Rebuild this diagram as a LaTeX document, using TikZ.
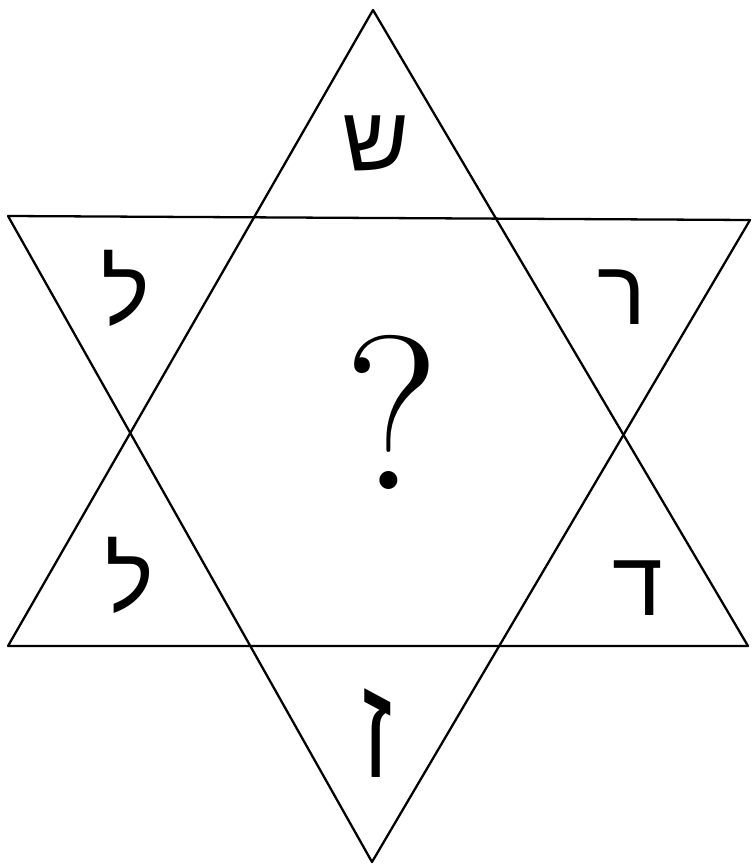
\documentclass[tikz,border=0pt]{standalone}
\usepackage{fontspec}
\newfontfamily\hebfont[Script=Hebrew]{Liberation Sans}
\TeXXeTstate=1
\usetikzlibrary{arrows}

\begin{document}
\begin{tikzpicture}[x=0.02cm,y=-0.02cm]

                \tikzset{side/.style = {line width=1.3pt,line join=round}}
                \tikzset{letter/.style = {font=\hebfont\fontsize{52}{52}\selectfont,inner sep=0pt}}

                \useasboundingbox (0,0) rectangle (751,868);

                % corners of the two triangles
                \coordinate (up) at (373,10);
                \coordinate (ul) at (8,646);
                \coordinate (ur) at (748,646);
                \coordinate (dl) at (8,216);
                \coordinate (dr) at (750,220);
                \coordinate (dn) at (372,862);

                \draw[side] (up) -- (ul) -- (ur) -- cycle;
                \draw[side] (dl) -- (dr) -- (dn) -- cycle;

                \node[letter] (shin) at (376,143) {\beginR ש\endR};
                \node[letter] (lamedtop) at (126,288) {\beginR ל\endR};
                \node[letter] (lamedbot) at (130,575) {\beginR ל\endR};
                \node[letter] (resh) at (622,297) {\beginR ר\endR};
                \node[letter] (dalet) at (638,588) {\beginR ד\endR};
                \node[letter,yscale=1.6,transform shape] (zayin) at (377,733) {\beginR ז\endR};
                \node[font=\fontsize{125}{125}\selectfont,inner sep=0pt] (quest) at (392,412) {?};

        \end{tikzpicture}
\end{document}
